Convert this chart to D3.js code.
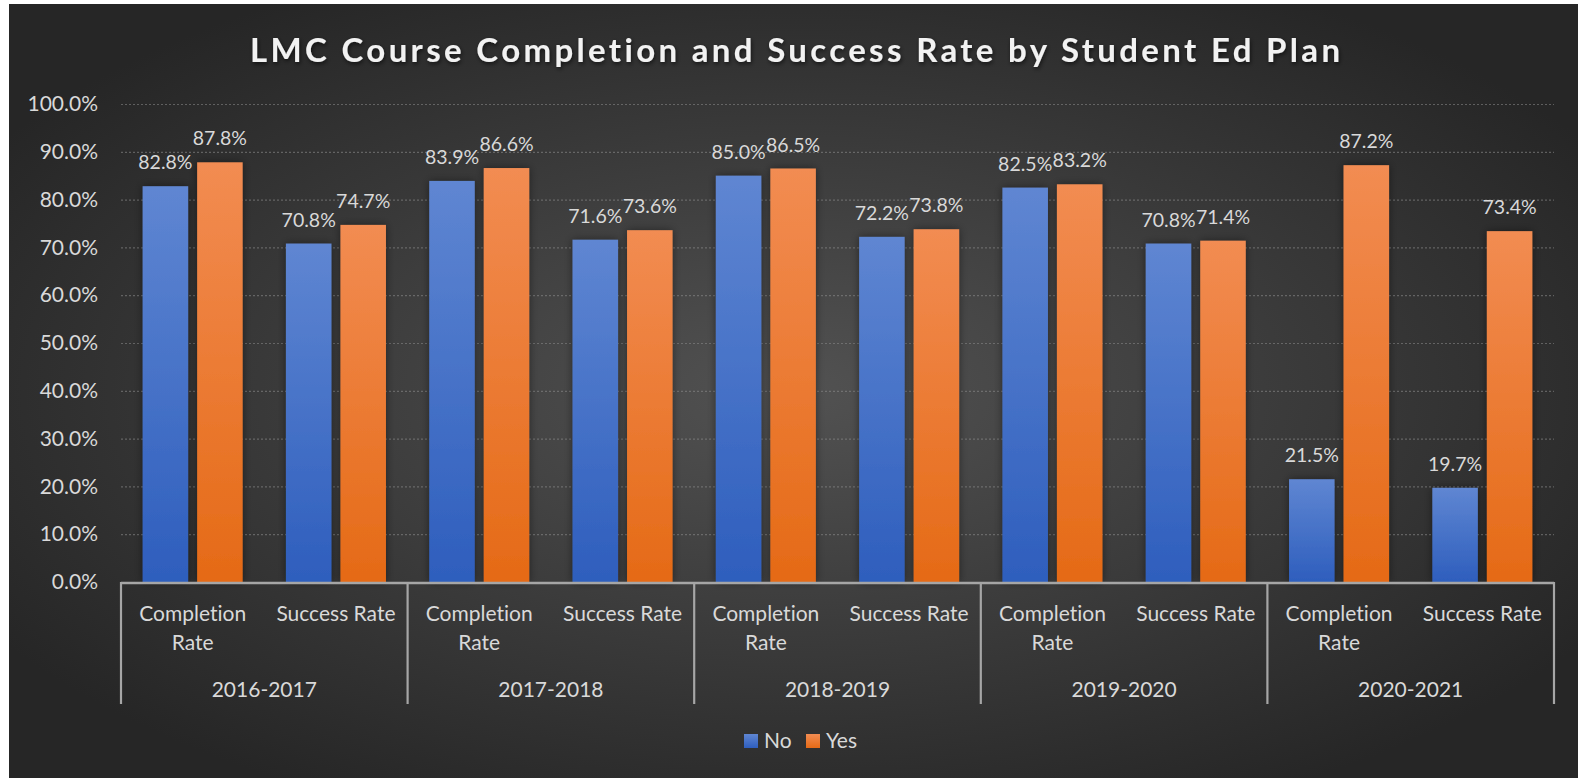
<!DOCTYPE html>
<html>
<head>
<meta charset="utf-8">
<script src="https://cdn.jsdelivr.net/npm/d3@7/dist/d3.min.js"></script>
<style>
  html, body { margin: 0; padding: 0; background: #ffffff; }
  svg { display: block; }
  text { font-family: Lato, "Open Sans", sans-serif; font-variant-ligatures: none; }
</style>
</head>
<body>
<svg id="chart" width="1578" height="778"></svg>
<script>
// ---- data ----
const title = "LMC Course Completion and Success Rate by Student Ed Plan";
const years = ["2016-2017", "2017-2018", "2018-2019", "2019-2020", "2020-2021"];
const metrics = ["Completion Rate", "Success Rate"];
const seriesNames = ["No", "Yes"];
// values ordered year by year: [Completion, Success]
const noValues  = [82.8, 70.8, 83.9, 71.6, 85.0, 72.2, 82.5, 70.8, 21.5, 19.7];
const yesValues = [87.8, 74.7, 86.6, 73.6, 86.5, 73.8, 83.2, 71.4, 87.2, 73.4];
const yTicks = [0, 10, 20, 30, 40, 50, 60, 70, 80, 90, 100];

// ---- layout ----
const W = 1578, H = 778;
const plot = { left: 121, right: 1554, top: 104, bottom: 582 };
const axisFont = "21px";
const labelFont = "19.5px";

const svg = d3.select("#chart");
const defs = svg.append("defs");

// background radial gradient
const bg = defs.append("radialGradient").attr("id", "bgGrad")
  .attr("cx", "50%").attr("cy", "50%").attr("r", "60%");
bg.append("stop").attr("offset", "0%").attr("stop-color", "#525252");
bg.append("stop").attr("offset", "100%").attr("stop-color", "#262626");

const grads = [
  { id: "gNo", top: "#5f86d2", bottom: "#2e5ebd" },
  { id: "gYes", top: "#f28c52", bottom: "#e56a16" }
];
grads.forEach(g => {
  const lg = defs.append("linearGradient").attr("id", g.id)
    .attr("x1", 0).attr("y1", 0).attr("x2", 0).attr("y2", 1);
  lg.append("stop").attr("offset", "0%").attr("stop-color", g.top);
  lg.append("stop").attr("offset", "100%").attr("stop-color", g.bottom);
});
const sh = defs.append("filter").attr("id", "shadow")
  .attr("x", "-30%").attr("y", "-10%").attr("width", "160%").attr("height", "120%");
sh.append("feDropShadow").attr("dx", 0).attr("dy", 0).attr("stdDeviation", 4)
  .attr("flood-color", "#000").attr("flood-opacity", 0.45);
const tsh = defs.append("filter").attr("id", "tshadow")
  .attr("x", "-5%").attr("y", "-30%").attr("width", "110%").attr("height", "160%");
tsh.append("feDropShadow").attr("dx", 1).attr("dy", 2).attr("stdDeviation", 2)
  .attr("flood-color", "#000").attr("flood-opacity", 0.6);

svg.append("rect").attr("x", 9).attr("y", 4).attr("width", W - 9).attr("height", H - 4)
  .attr("fill", "url(#bgGrad)");

// ---- scales ----
const y = d3.scaleLinear().domain([0, 100]).range([plot.bottom, plot.top]);
const xYear = d3.scaleBand().domain(years).range([plot.left, plot.right]).padding(0);
const xMetric = d3.scaleBand().domain(metrics).range([0, xYear.bandwidth()]).padding(0);
const xSeries = d3.scaleBand().domain(seriesNames).range([0, xMetric.bandwidth()])
  .paddingInner(0.165).paddingOuter(0.397);

// ---- gridlines ----
const yAxisG = svg.append("g").attr("transform", `translate(${plot.left},0)`)
  .call(d3.axisLeft(y).tickValues(yTicks).tickSize(-(plot.right - plot.left))
    .tickFormat(d => d3.format(".1f")(d) + "%").tickPadding(23));
yAxisG.select(".domain").remove();
yAxisG.selectAll(".tick line")
  .attr("stroke", "#8c8c8c").attr("stroke-width", 1.2)
  .attr("stroke-dasharray", "2,2").attr("opacity", 0.55);
yAxisG.selectAll(".tick text")
  .attr("fill", "#d9d9d9").style("font-size", axisFont)
  .style("font-family", "Lato, 'Open Sans', sans-serif");
yAxisG.selectAll(".tick").filter(d => d === 0).select("line").remove();

// ---- bars ----
const rows = [];
years.forEach((yr, i) => {
  metrics.forEach((m, j) => {
    const k = i * 2 + j;
    rows.push({ year: yr, metric: m, series: "No", value: noValues[k] });
    rows.push({ year: yr, metric: m, series: "Yes", value: yesValues[k] });
  });
});
const xPos = d => xYear(d.year) + xMetric(d.metric) + xSeries(d.series);

svg.append("g").selectAll("rect").data(rows).join("rect")
  .attr("x", xPos)
  .attr("y", d => y(d.value))
  .attr("width", xSeries.bandwidth())
  .attr("height", d => y(0) - y(d.value))
  .attr("fill", d => d.series === "No" ? "url(#gNo)" : "url(#gYes)")
  .attr("filter", "url(#shadow)");

svg.append("g").selectAll("text").data(rows).join("text")
  .attr("x", d => xPos(d) + xSeries.bandwidth() / 2)
  .attr("y", d => y(d.value) - 17)
  .attr("text-anchor", "middle")
  .attr("fill", "#d9d9d9")
  .style("font-size", labelFont)
  .text(d => d3.format(".1f")(d.value) + "%");

// ---- category axis ----
const axisG = svg.append("g");
axisG.append("line")
  .attr("x1", plot.left).attr("x2", plot.right)
  .attr("y1", plot.bottom + 1).attr("y2", plot.bottom + 1)
  .attr("stroke", "#a6a6a6").attr("stroke-width", 2.5);
const boundaries = years.map(yr => xYear(yr)).concat([plot.right]);
axisG.selectAll("line.sep").data(boundaries).join("line").attr("class", "sep")
  .attr("x1", d => d).attr("x2", d => d)
  .attr("y1", plot.bottom).attr("y2", 704)
  .attr("stroke", "#a6a6a6").attr("stroke-width", 2.2);

const metricLabels = [];
years.forEach(yr => metrics.forEach(m => metricLabels.push({ year: yr, metric: m })));
const maxW = xMetric.bandwidth() - 8;
axisG.selectAll("text.metric").data(metricLabels).join("text").attr("class", "metric")
  .attr("x", d => xYear(d.year) + xMetric(d.metric) + xMetric.bandwidth() / 2)
  .attr("y", 621)
  .attr("text-anchor", "middle")
  .attr("fill", "#d9d9d9")
  .style("font-size", axisFont)
  .each(function (d) {
    const t = d3.select(this);
    const words = d.metric.split(" ");
    let line = [];
    let ts = t.append("tspan").attr("x", t.attr("x")).attr("dy", 0);
    words.forEach(w => {
      line.push(w);
      ts.text(line.join(" "));
      if (d.metric.startsWith("Completion") && line.length > 1 ||
          ts.node().getComputedTextLength() > maxW && line.length > 1) {
        line.pop();
        ts.text(line.join(" "));
        line = [w];
        ts = t.append("tspan").attr("x", t.attr("x")).attr("dy", 29).text(w);
      }
    });
  });

axisG.selectAll("text.year").data(years).join("text").attr("class", "year")
  .attr("x", d => xYear(d) + xYear.bandwidth() / 2)
  .attr("y", 697)
  .attr("text-anchor", "middle")
  .attr("fill", "#d9d9d9")
  .style("font-size", axisFont)
  .text(d => d);

// ---- title ----
svg.append("text")
  .attr("x", 795).attr("y", 62)
  .attr("text-anchor", "middle")
  .attr("fill", "#f2f2f2")
  .attr("filter", "url(#tshadow)")
  .style("font-size", "33px").style("font-weight", "bold")
  .attr("textLength", 1090).attr("lengthAdjust", "spacing")
  .text(title);

// ---- legend ----
const legendItems = [
  { name: "No", fill: "url(#gNo)", x: 744 },
  { name: "Yes", fill: "url(#gYes)", x: 806 }
];
const lg = svg.append("g");
legendItems.forEach(it => {
  lg.append("rect").attr("x", it.x).attr("y", 734).attr("width", 14).attr("height", 14)
    .attr("fill", it.fill);
  lg.append("text").attr("x", it.x + 20).attr("y", 748)
    .attr("fill", "#d9d9d9").style("font-size", axisFont).text(it.name);
});
</script>
</body>
</html>
